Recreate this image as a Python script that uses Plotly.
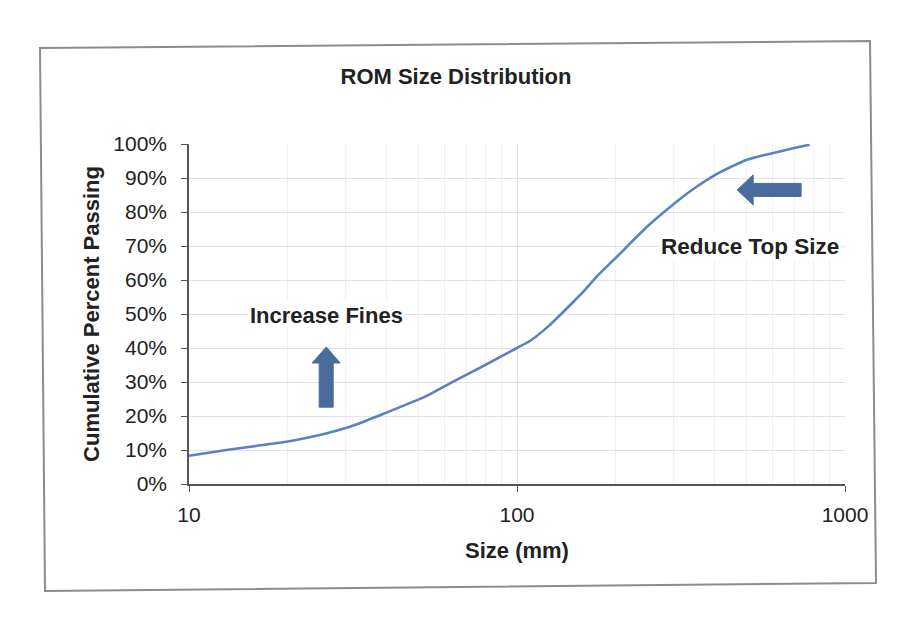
import math
import plotly.graph_objects as go

# ---------------- data ----------------
sizes_mm = [10, 13, 16, 20, 26, 29, 33, 40, 50, 54, 65, 80, 100, 110, 125, 150,
            159, 175, 200, 250, 300, 350, 400, 450, 500, 600, 700, 780]
pct_passing = [8.3, 10.0, 11.2, 12.5, 14.8, 16.0, 17.8, 21.0, 24.8, 26.3, 30.5, 35.0,
               40.0, 42.2, 46.5, 54.0, 56.5, 61.0, 66.5, 75.8, 82.3, 87.2, 90.8,
               93.3, 95.3, 97.3, 98.8, 99.8]

x_tick_vals = [10, 100, 1000]
x_tick_text = ["10", "100", "1000"]
y_tick_vals = [0, 10, 20, 30, 40, 50, 60, 70, 80, 90, 100]
y_tick_text = ["0%", "10%", "20%", "30%", "40%", "50%", "60%", "70%", "80%", "90%", "100%"]
minor_x = [20, 30, 40, 50, 60, 70, 80, 90, 200, 300, 400, 500, 600, 700, 800, 900]

title_text = "ROM Size Distribution"
x_title = "Size (mm)"
y_title = "Cumulative Percent Passing"
note_fines = "Increase Fines"
note_top = "Reduce Top Size"

# ---------------- layout geometry ----------------
W, H = 916, 632
L, R, T, B = 189, 71, 144, 148
PW, PH = W - L - R, H - T - B
XR = [1, 3]
YR = [0, 100]

def px_to_paper(px, py):
    return (px - L) / PW, (H - B - py) / PH

def data_to_paper(x, y):
    fx = (math.log10(x) - XR[0]) / (XR[1] - XR[0])
    fy = (y - YR[0]) / (YR[1] - YR[0])
    return fx, fy

ARROW = "#4a6b9c"
TXT = "#222222"
FONT = "Liberation Sans, Arial, sans-serif"

fig = go.Figure()
fig.add_trace(go.Scatter(x=sizes_mm, y=pct_passing, mode="lines",
                         line=dict(color="#5b80c4", width=2.6, shape="spline", smoothing=0.6),
                         hoverinfo="skip", showlegend=False))

shapes = []
# outer chart border (slightly tilted like the scan)
corners = [(40, 48), (870, 41), (876, 583), (45, 591)]
pts = [px_to_paper(*c) for c in corners]
path = "M " + " L ".join(f"{a:.5f},{b:.5f}" for a, b in pts) + " Z"
shapes.append(dict(type="path", xref="paper", yref="paper", path=path,
                   line=dict(color="#8c8c8c", width=2), fillcolor="rgba(0,0,0,0)", layer="below"))

# block arrow: up (Increase Fines)
ux, uy0 = data_to_paper(26.2, 22.6)
_, uy1 = data_to_paper(26.2, 40.3)
sw, hw, hh = 7 / PW, 14 / PW, 16 / PH
up_pts = [(ux - sw, uy0), (ux - sw, uy1 - hh), (ux - hw, uy1 - hh), (ux, uy1),
          (ux + hw, uy1 - hh), (ux + sw, uy1 - hh), (ux + sw, uy0)]
shapes.append(dict(type="path", xref="paper", yref="paper",
                   path="M " + " L ".join(f"{a:.5f},{b:.5f}" for a, b in up_pts) + " Z",
                   fillcolor=ARROW, line=dict(color=ARROW, width=1)))

# block arrow: left (Reduce Top Size)
lx1, ly = data_to_paper(469, 86.5)
lx0, _ = data_to_paper(735, 86.5)
sh, hh2, hl = 6.5 / PH, 15 / PH, 16 / PW
left_pts = [(lx0, ly - sh), (lx1 + hl, ly - sh), (lx1 + hl, ly - hh2), (lx1, ly),
            (lx1 + hl, ly + hh2), (lx1 + hl, ly + sh), (lx0, ly + sh)]
shapes.append(dict(type="path", xref="paper", yref="paper",
                   path="M " + " L ".join(f"{a:.5f},{b:.5f}" for a, b in left_pts) + " Z",
                   fillcolor=ARROW, line=dict(color=ARROW, width=1)))

annotations = []
fx, fy = data_to_paper(26.3, 49.7)
annotations.append(dict(x=fx, y=fy, xref="paper", yref="paper", text=f"<b>{note_fines}</b>",
                        showarrow=False, font=dict(family=FONT, size=22, color=TXT),
                        bgcolor="white", xanchor="center", yanchor="middle"))
fx, fy = data_to_paper(515, 70)
annotations.append(dict(x=fx, y=fy, xref="paper", yref="paper", text=f"<b>{note_top}</b>",
                        showarrow=False, font=dict(family=FONT, size=22.5, color=TXT),
                        bgcolor="white", xanchor="center", yanchor="middle"))

fig.update_layout(
    width=W, height=H,
    margin=dict(l=L, r=R, t=T, b=B),
    paper_bgcolor="white", plot_bgcolor="white",
    font=dict(family=FONT, color=TXT),
    title=dict(text=f"<b>{title_text}</b>", x=456 / W, xref="container", xanchor="center",
               y=1 - 76 / H, yref="container", yanchor="middle",
               font=dict(family=FONT, size=22, color=TXT)),
    shapes=shapes,
    annotations=annotations,
    xaxis=dict(type="log", range=XR, tickvals=x_tick_vals, ticktext=x_tick_text,
               showline=True, linecolor="#555555", linewidth=1.5,
               ticks="outside", ticklen=6, tickcolor="#555555",
               tickfont=dict(family=FONT, size=21, color=TXT),
               showgrid=True, gridcolor="#e3e3e3", gridwidth=1,
               minor=dict(tickvals=minor_x, showgrid=True, gridcolor="#f0f0f0", gridwidth=1, ticks=""),
               zeroline=False, ticklabelstandoff=5,
               title=dict(text=f"<b>{x_title}</b>", font=dict(family=FONT, size=22, color=TXT), standoff=18)),
    yaxis=dict(range=YR, tickvals=y_tick_vals, ticktext=y_tick_text,
               showline=True, linecolor="#555555", linewidth=1.5,
               ticks="outside", ticklen=6, tickcolor="#555555",
               tickfont=dict(family=FONT, size=21, color=TXT),
               showgrid=True, gridcolor="#e3e3e3", gridwidth=1,
               zeroline=False, ticklabelstandoff=10,
               title=dict(text=f"<b>{y_title}</b>", font=dict(family=FONT, size=22, color=TXT), standoff=8)),
)

fig.write_html("out.html")
